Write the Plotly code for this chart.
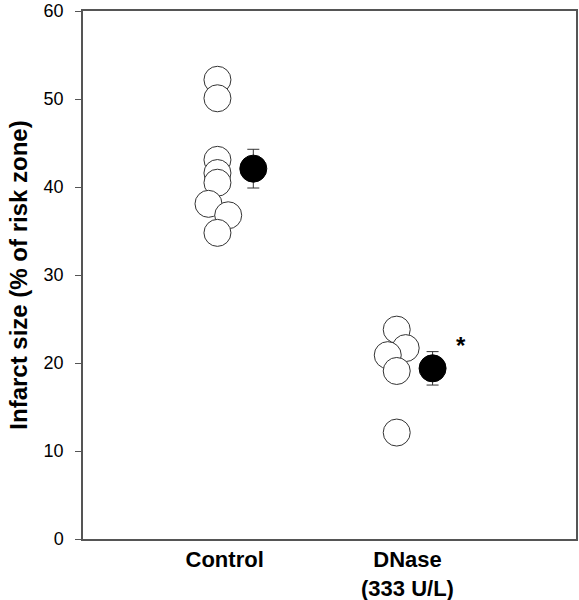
import plotly.graph_objects as go

groups = ["Control", "DNase<br>(333 U/L)"]
control_vals = [52.2, 50.1, 43.1, 41.6, 40.5, 38.1, 36.8, 34.8]
dnase_vals = [23.8, 21.7, 20.9, 19.1, 12.1]
means = [42.1, 19.4]
sems = [2.2, 1.9]
y_ticks = [0, 10, 20, 30, 40, 50, 60]

# horizontal jitter (x-axis units) for the individual points
control_jitter = [0, 0, 0, 0, 0, -0.05, 0.06, 0]
dnase_jitter = [0, 0.05, -0.05, 0, 0]
mean_offset = 0.2

fig = go.Figure()
open_marker = dict(size=27, color="white", line=dict(color="#333333", width=1))
fig.add_trace(go.Scatter(
    x=[1 + j for j in control_jitter], y=control_vals, mode="markers",
    marker=open_marker, showlegend=False))
fig.add_trace(go.Scatter(
    x=[2 + j for j in dnase_jitter], y=dnase_vals, mode="markers",
    marker=open_marker, showlegend=False))
fig.add_trace(go.Scatter(
    x=[1 + mean_offset, 2 + mean_offset], y=means, mode="markers",
    marker=dict(size=27, color="black", line=dict(color="black", width=1)),
    error_y=dict(type="data", array=sems, color="#333333", thickness=1, width=6),
    showlegend=False))

fig.add_annotation(x=2 + mean_offset + 0.16, y=means[1] + 2.6, text="<b>*</b>",
                   showarrow=False, font=dict(size=24, color="black"))

fig.update_layout(
    width=579, height=600,
    margin=dict(l=83, r=3, t=11, b=61),
    paper_bgcolor="white", plot_bgcolor="white",
    font=dict(family="Liberation Sans, Arial, sans-serif", color="black"),
    xaxis=dict(range=[0.25, 3.0], showgrid=False, zeroline=False, automargin=False,
               showline=True, linecolor="#555555", linewidth=1.5, mirror=True,
               tickvals=[1.04, 2.06], ticktext=["<b>" + g + "</b>" for g in groups],
               ticks="", tickfont=dict(size=22), ticklabelstandoff=0),
    yaxis=dict(range=[0, 60.02], showgrid=False, zeroline=False, automargin=False,
               showline=True, linecolor="#555555", linewidth=1.5, mirror=True,
               tickvals=y_ticks, ticks="outside", ticklen=6, tickcolor="#555555",
               tickfont=dict(size=18), ticklabelstandoff=8, ticklabeloverflow="allow",
               title=dict(text="<b>Infarct size (% of risk zone)</b>", font=dict(size=24), standoff=9)),
)

fig.write_html("out.html", post_script="document.body.style.margin='0';",
               config={"displayModeBar": False})
